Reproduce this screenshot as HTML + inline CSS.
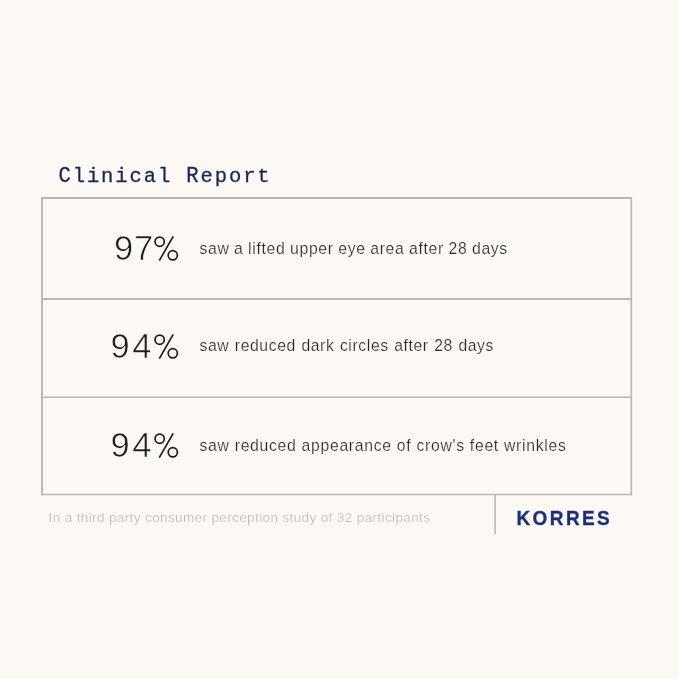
<!DOCTYPE html>
<html>
<head>
<meta charset="utf-8">
<title>Clinical Report</title>
<style>
  html, body { margin: 0; padding: 0; }
  body {
    width: 679px; height: 679px; overflow: hidden; position: relative;
    background: #fcf9f4;
    font-family: "Liberation Sans", sans-serif;
  }
  .page { position: absolute; left: 0; top: 0; width: 679px; height: 679px; will-change: transform; }
  .abs { position: absolute; white-space: nowrap; }
  .title {
    left: 58.5px; top: 163px;
    font-family: "Liberation Mono", monospace;
    font-size: 20.5px; line-height: 28px; letter-spacing: 1.9px;
    color: #19255f;
    -webkit-text-stroke: 0.3px #19255f;
  }
  .title .cap { display: inline-block; transform: scaleY(1.10); transform-origin: 0 21px; }
  .box { position: absolute; left: 0; top: 0; display: block; }
  .num {
    left: 0; width: 200px; height: 40px;
    font-size: 34.5px; line-height: 40px; color: #1c1c1c;
    -webkit-text-stroke: 0.65px #fcf9f4;
  }
  .num span { position: absolute; top: 0; transform-origin: 0 0; display: block; }
  .pct { position: absolute; left: 150px; display: block; }
  .desc {
    font-size: 15.75px; line-height: 20px; color: #262626; left: 199.5px;
    letter-spacing: 0.65px;
    -webkit-text-stroke: 0.2px #fcf9f4;
  }
  .foot {
    left: 48.5px; top: 508.5px; font-size: 13.5px; line-height: 18px; color: #bdbcb8;
    letter-spacing: 0.38px;
    -webkit-text-stroke: 0.15px #fcf9f4;
  }
  .brand {
    left: 516.5px; top: 506px; font-size: 19px; line-height: 24px; font-weight: bold;
    color: #1b2f7a; letter-spacing: 2.4px;
    transform: translateY(0.4px) scaleY(1.09); transform-origin: 0 12px;
    -webkit-text-stroke: 0.3px #1b2f7a;
  }
</style>
</head>
<body>
<div class="page">
  <div class="abs title"><span class="cap">C</span>linical <span class="cap">R</span>eport</div>

  <!-- box -->
  <svg class="box" width="679" height="679" viewBox="0 0 679 679">
    <g stroke="#bab8b2" fill="none">
      <line x1="41" y1="198" x2="632.1" y2="198" stroke-width="2"/>
      <line x1="41" y1="299" x2="632.1" y2="299" stroke-width="2"/>
      <line x1="41" y1="397.3" x2="632.1" y2="397.3" stroke-width="1.6"/>
      <line x1="41" y1="494.5" x2="632.1" y2="494.5" stroke-width="1.6"/>
      <line x1="42" y1="197" x2="42" y2="495.3" stroke-width="2"/>
      <line x1="631.3" y1="197" x2="631.3" y2="495.3" stroke-width="1.6"/>
      <line x1="495.1" y1="495" x2="495.1" y2="534.3" stroke-width="1.6"/>
    </g>
  </svg>

  <div class="abs num" style="top:228px;"><span style="left:114px;">9</span><span style="left:134px;">7</span></div>
  <svg class="pct" style="top:232px;" width="32" height="32" viewBox="150 232 32 32"><g fill="none" stroke="#1c1c1c" stroke-width="1.7"><circle cx="159.67" cy="241.7" r="4.6"/><circle cx="172.8" cy="255.3" r="4.6"/><line x1="159.3" y1="260.6" x2="173.2" y2="236.4"/></g></svg>
  <div class="abs desc" style="top:239px; transform:translateY(-0.5px); letter-spacing:0.68px; word-spacing:-0.5px;">saw a lifted upper eye area after 28 days</div>

  <div class="abs num" style="top:326px;"><span style="left:110.5px;">9</span><span style="left:132.3px;">4</span></div>
  <svg class="pct" style="top:329.5px;" width="32" height="32" viewBox="150 232 32 32"><g fill="none" stroke="#1c1c1c" stroke-width="1.7"><circle cx="159.67" cy="241.7" r="4.6"/><circle cx="172.8" cy="255.3" r="4.6"/><line x1="159.3" y1="260.6" x2="173.2" y2="236.4"/></g></svg>
  <div class="abs desc" style="top:336px; letter-spacing:0.6px; word-spacing:0.5px;">saw reduced dark circles after 28 days</div>

  <div class="abs num" style="top:425px;"><span style="left:110.5px;">9</span><span style="left:132.3px;">4</span></div>
  <svg class="pct" style="top:428.5px;" width="32" height="32" viewBox="150 232 32 32"><g fill="none" stroke="#1c1c1c" stroke-width="1.7"><circle cx="159.67" cy="241.7" r="4.6"/><circle cx="172.8" cy="255.3" r="4.6"/><line x1="159.3" y1="260.6" x2="173.2" y2="236.4"/></g></svg>
  <div class="abs desc" style="top:436px; letter-spacing:0.7px; word-spacing:0;">saw reduced appearance of crow's feet wrinkles</div>

  <div class="abs foot">In a third party consumer perception study of 32 participants</div>
  <div class="abs brand">KORRES</div>
</div>
</body>
</html>
